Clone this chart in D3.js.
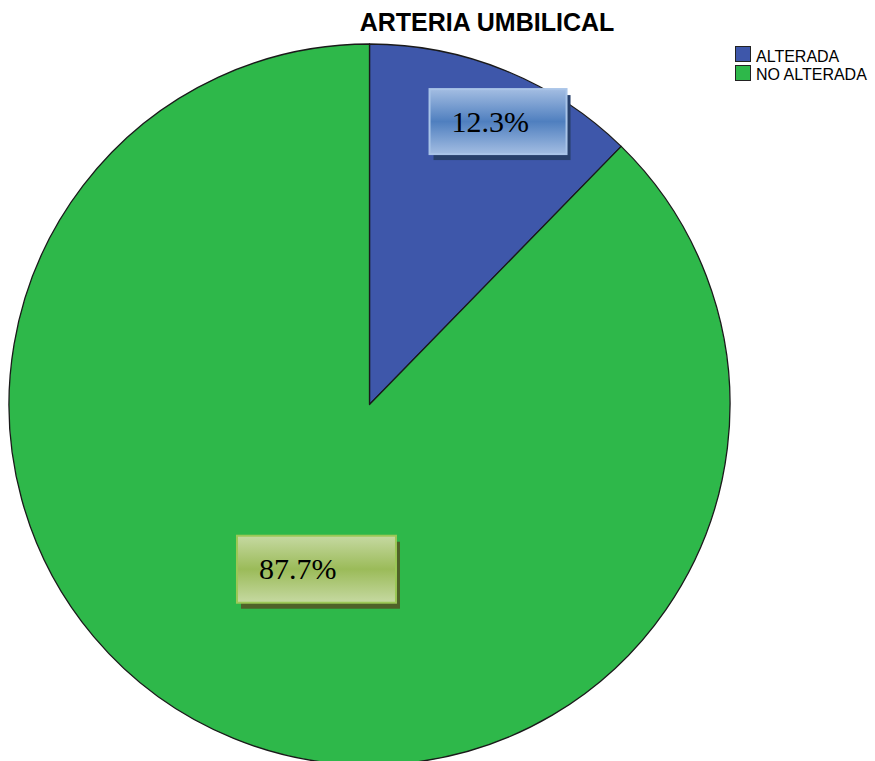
<!DOCTYPE html>
<html>
<head>
<meta charset="utf-8">
<script src="https://cdn.jsdelivr.net/npm/d3@7"></script>
<style>
  body { margin: 0; background: #fff; }
  svg { display: block; }
</style>
</head>
<body>
<svg id="chart" width="875" height="761"></svg>
<script>
// datos del grafico
const title = "ARTERIA UMBILICAL";
const categories = ["ALTERADA", "NO ALTERADA"];
const percents = [12.3, 87.7];
const labels = ["12.3%", "87.7%"];

const sliceColors = ["#3e57aa", "#2eb84a"];
const boxStyles = [
    {light: "#a3bde2", mid: "#4f7fbf", border: "#a9c4e8", shadow: "#28406b"},
    {light: "#c6d9a2", mid: "#9bbb59", border: "#9cc856", shadow: "#4f6228"}
];

const svg = d3.select("#chart"),
    width = +svg.attr("width"),
    height = +svg.attr("height");

const cx = 369.5, cy = 404.5, radius = 360.5;

svg.append("text")
    .attr("x", 487)
    .attr("y", 31)
    .attr("text-anchor", "middle")
    .attr("font-family", "Liberation Sans, Arial, sans-serif")
    .attr("font-weight", "bold")
    .attr("font-size", 25)
    .attr("fill", "#000")
    .text(title);

const pie = d3.pie().sort(null).value(d => d);
const arcs = pie(percents);

const arc = d3.arc().innerRadius(0).outerRadius(radius);

const g = svg.append("g").attr("transform", "translate(" + cx + "," + cy + ")");

g.selectAll("path")
    .data(arcs)
    .join("path")
    .attr("d", arc)
    .attr("fill", (d, i) => sliceColors[i])
    .attr("stroke", "#1a1a1a")
    .attr("stroke-width", 1.3)
    .attr("stroke-linejoin", "round");

// gradientes de las etiquetas
const defs = svg.append("defs");
boxStyles.forEach((s, i) => {
    const grad = defs.append("linearGradient")
        .attr("id", "grad" + i)
        .attr("x1", 0).attr("y1", 0).attr("x2", 0).attr("y2", 1);
    grad.append("stop").attr("offset", "0%").attr("stop-color", s.light);
    grad.append("stop").attr("offset", "50%").attr("stop-color", s.mid);
    grad.append("stop").attr("offset", "100%").attr("stop-color", s.light);
});

// posicion de las etiquetas (radio relativo y ajuste del angulo)
const labelPos = [{r: 0.862, da: 0.04, w: 137, h: 65}, {r: 0.48, da: -0.075, w: 159, h: 67}];

arcs.forEach((d, i) => {
    const p = labelPos[i];
    const a = (d.startAngle + d.endAngle) / 2 + p.da;
    const lx = Math.sin(a) * radius * p.r;
    const ly = -Math.cos(a) * radius * p.r;
    const x0 = lx - p.w / 2, y0 = ly - p.h / 2;
    const lg = g.append("g").attr("transform", "translate(" + x0 + "," + y0 + ")");
    lg.append("rect")
        .attr("x", 4).attr("y", 6)
        .attr("width", p.w).attr("height", p.h)
        .attr("fill", boxStyles[i].shadow);
    lg.append("rect")
        .attr("x", 0).attr("y", 0)
        .attr("width", p.w).attr("height", p.h)
        .attr("fill", "url(#grad" + i + ")")
        .attr("stroke", boxStyles[i].border)
        .attr("stroke-width", 2);
    lg.append("text")
        .attr("x", 22)
        .attr("y", p.h / 2 + 10)
        .attr("font-family", "Liberation Serif, Times New Roman, serif")
        .attr("font-size", 30)
        .attr("fill", "#000")
        .text(labels[i]);
});

// leyenda
const legend = svg.append("g").attr("transform", "translate(735,46)");
categories.forEach((c, i) => {
    legend.append("rect")
        .attr("x", 0.5).attr("y", i * 19 + 0.5)
        .attr("width", 15).attr("height", 15)
        .attr("fill", sliceColors[i])
        .attr("stroke", "#222")
        .attr("stroke-width", 1);
    legend.append("text")
        .attr("x", 21)
        .attr("y", i * 18 + 16.3)
        .attr("font-family", "Liberation Sans, Arial, sans-serif")
        .attr("font-size", 16)
        .attr("fill", "#000")
        .text(c);
});
</script>
</body>
</html>
